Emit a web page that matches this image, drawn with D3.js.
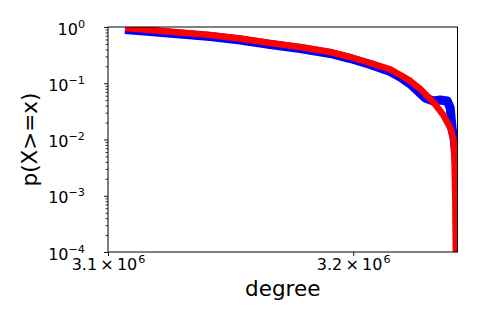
<!DOCTYPE html>
<html>
<head>
<meta charset="utf-8">
<script src="https://cdn.jsdelivr.net/npm/d3@7"></script>
<style>
  body { margin: 0; background: #fff; }
  svg { display: block; font-family: "DejaVu Sans", sans-serif; }
</style>
</head>
<body>
<svg id="chart" width="480" height="320"></svg>
<script>
// empirical ccdf of degree (blue)
const degree = [3106836, 3116918, 3129059, 3141247, 3153482, 3165766, 3178096, 3190475,
  3198755, 3207056, 3215378, 3219547, 3223722, 3229994, 3233350, 3236282, 3239216,
  3240475, 3240895, 3241315, 3242156, 3242786, 3242996];
const pDegree = [0.903, 0.832, 0.751, 0.678, 0.587, 0.489, 0.415, 0.338,
  0.275, 0.215, 0.162, 0.129, 0.097, 0.0547, 0.0484, 0.0504, 0.0484,
  0.0363, 0.0222, 0.0148, 0.0098, 0.0053, 0.00382];

// fitted distribution (red)
const fitDegree = [3106836, 3116918, 3129059, 3141247, 3153482, 3165766, 3178096, 3190475,
  3198755, 3207056, 3215378, 3219547, 3223722, 3227902, 3233350, 3237537, 3240475,
  3241315, 3241839, 3242261, 3242576, 3242786, 3242848];
const fitP = [0.960, 0.884, 0.799, 0.721, 0.625, 0.519, 0.441, 0.359,
  0.293, 0.229, 0.176, 0.140, 0.110, 0.079, 0.0464, 0.0273, 0.0160,
  0.0120, 0.0098, 0.0043, 0.00084, 0.0001, 0.0000063];

const yExponents = [0, -1, -2, -3, -4];
const xTicks = [3.1e6, 3.2e6];
const xTickLabels = ["3.1", "3.2"];
const xTickExp = "6";

const W = 480, H = 320;
const margin = {top: 27, right: 22.5, bottom: 68, left: 108};
const width = W - margin.left - margin.right;
const height = H - margin.top - margin.bottom;

const svg = d3.select("#chart");
const g = svg.append("g").attr("transform", `translate(${margin.left},${margin.top})`);

const x = d3.scaleLog().domain([3.1e6, 3243500]).range([0, width]);
const y = d3.scaleLog().domain([1e-4, 1]).range([height, 0]);

g.append("clipPath").attr("id", "clip")
  .append("rect").attr("width", width).attr("height", height);

const line = d3.line()
  .x(d => x(d[0]))
  .y(d => y(d[1]));

const plot = g.append("g").attr("clip-path", "url(#clip)");

plot.append("path")
  .datum(d3.zip(degree, pDegree))
  .attr("fill", "none")
  .attr("stroke", "#0000ff")
  .attr("stroke-width", 9)
  .attr("stroke-linejoin", "round")
  .attr("d", line);

plot.append("path")
  .datum(d3.zip(fitDegree, fitP))
  .attr("fill", "none")
  .attr("stroke", "#ff0000")
  .attr("stroke-width", 6.5)
  .attr("stroke-linejoin", "round")
  .attr("d", line);

// y minor ticks
const yMinor = [];
yExponents.slice(0, -1).forEach(e => {
  for (let k = 2; k <= 9; k++) yMinor.push(k * Math.pow(10, e - 1));
});
g.append("g")
  .call(d3.axisLeft(y).tickValues(yMinor).tickSize(2.5).tickSizeOuter(0).tickFormat(() => ""))
  .call(a => a.select(".domain").remove())
  .selectAll("line").attr("stroke", "#000").attr("stroke-width", 0.8);

// y major ticks
const yAxis = g.append("g")
  .call(d3.axisLeft(y).tickValues(yExponents.map(e => Math.pow(10, e)))
    .tickSize(4).tickSizeOuter(0).tickPadding(19).tickFormat(() => ""));
yAxis.select(".domain").remove();
yAxis.selectAll("line").attr("stroke", "#000").attr("stroke-width", 0.9);
yAxis.selectAll("text")
  .attr("dy", 7)
  .attr("font-size", 16)
  .attr("font-family", "DejaVu Sans")
  .attr("fill", "#000")
  .each(function(d) {
    const t = d3.select(this);
    const e = Math.round(Math.log10(d));
    t.append("tspan").text("10");
    t.append("tspan").attr("dy", -7).attr("font-size", 11.2)
      .text(e < 0 ? "\u2212" + (-e) : String(e));
  });

// x ticks
const xAxis = g.append("g")
  .attr("transform", `translate(0,${height})`)
  .call(d3.axisBottom(x).tickValues(xTicks).tickSize(4).tickSizeOuter(0).tickFormat(() => ""));
xAxis.select(".domain").remove();
xAxis.selectAll("line").attr("stroke", "#000").attr("stroke-width", 0.9);
xAxis.selectAll("text")
  .attr("y", 18)
  .attr("dy", 0)
  .attr("font-size", 16)
  .attr("font-family", "DejaVu Sans")
  .attr("fill", "#000")
  .each(function(d, i) {
    const t = d3.select(this);
    t.append("tspan").text(xTickLabels[i] + "\u2009\u00d7\u2009" + "10");
    t.append("tspan").attr("dx", 1).attr("dy", -7).attr("font-size", 11.2).text(xTickExp);
  });

// frame
g.append("rect")
  .attr("width", width).attr("height", height)
  .attr("fill", "none").attr("stroke", "#000").attr("stroke-width", 1);

// axis labels
svg.append("text")
  .attr("x", margin.left + width / 2).attr("y", 296)
  .attr("text-anchor", "middle")
  .attr("font-size", 21.5)
  .text("degree");

svg.append("text")
  .attr("transform", `translate(37,${margin.top + height / 2}) rotate(-90)`)
  .attr("text-anchor", "middle")
  .attr("font-size", 21.5)
  .text("p(X>=x)");
</script>
</body>
</html>
